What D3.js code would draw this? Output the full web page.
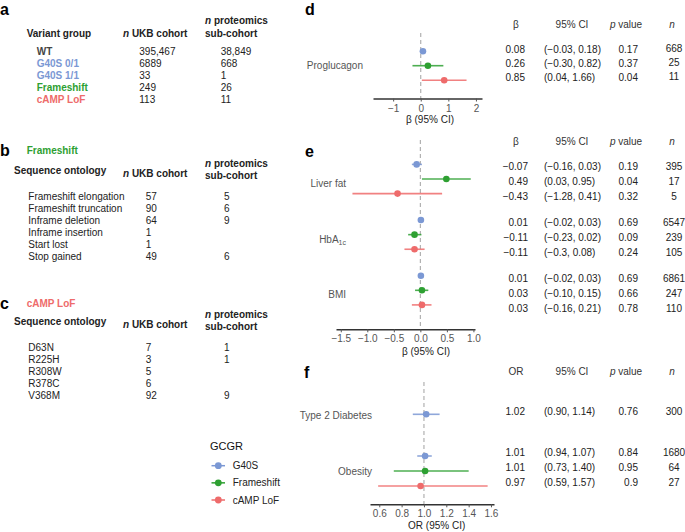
<!DOCTYPE html>
<html><head><meta charset="utf-8">
<script src="https://cdn.jsdelivr.net/npm/d3@7"></script>
<style>body{margin:0;background:#fff} svg{font-family:"Liberation Sans",Arial,sans-serif}</style>
</head><body><svg id="c" width="685" height="532"></svg>
<script>
// ---------- data ----------
const seriesNames = ["G40S", "Frameshift", "cAMP LoF"];
const seriesColors = ["#7b98d4", "#2ea032", "#ee6b6b"];

const variantGroups = ["WT", "G40S 0/1", "G40S 1/1", "Frameshift", "cAMP LoF"];
const variantUKB = ["395,467", "6889", "33", "249", "113"];
const variantProt = ["38,849", "668", "1", "26", "11"];

const frameshiftTypes = ["Frameshift elongation", "Frameshift truncation", "Inframe deletion", "Inframe insertion", "Start lost", "Stop gained"];
const frameshiftUKB = ["57", "90", "64", "1", "1", "49"];
const frameshiftProt = ["5", "6", "9", "", "", "6"];

const campVariants = ["D63N", "R225H", "R308W", "R378C", "V368M"];
const campUKB = ["7", "3", "5", "6", "92"];
const campProt = ["1", "1", "", "", "9"];

// panel d
const dOutcome = ["Proglucagon", "Proglucagon", "Proglucagon"];
const dSeries = ["G40S", "Frameshift", "cAMP LoF"];
const dBeta = [0.08, 0.26, 0.85];
const dLo = ["-0.03", "-0.30", "0.04"];
const dHi = ["0.18", "0.82", "1.66"];
const dP = ["0.17", "0.37", "0.04"];
const dN = ["668", "25", "11"];
const dTicks = [-1, 0, 1, 2];

// panel e
const eOutcome = ["Liver fat", "Liver fat", "Liver fat", "HbA1c", "HbA1c", "HbA1c", "BMI", "BMI", "BMI"];
const eSeries = ["G40S", "Frameshift", "cAMP LoF", "G40S", "Frameshift", "cAMP LoF", "G40S", "Frameshift", "cAMP LoF"];
const eBeta = [-0.07, 0.49, -0.43, 0.01, -0.11, -0.11, 0.01, 0.03, 0.03];
const eLo = ["-0.16", "0.03", "-1.28", "-0.02", "-0.23", "-0.3", "-0.02", "-0.10", "-0.16"];
const eHi = ["0.03", "0.95", "0.41", "0.03", "0.02", "0.08", "0.03", "0.15", "0.21"];
const eP = ["0.19", "0.04", "0.32", "0.69", "0.09", "0.24", "0.69", "0.66", "0.78"];
const eN = ["395", "17", "5", "6547", "239", "105", "6861", "247", "110"];
const eTicks = [-1.5, -1.0, -0.5, 0.0, 0.5, 1.0];

// panel f
const fOutcome = ["Type 2 Diabetes", "Obesity", "Obesity", "Obesity"];
const fSeries = ["G40S", "G40S", "Frameshift", "cAMP LoF"];
const fOR = [1.02, 1.01, 1.01, 0.97];
const fLo = ["0.90", "0.94", "0.73", "0.59"];
const fHi = ["1.14", "1.07", "1.40", "1.57"];
const fP = ["0.76", "0.84", "0.95", "0.9"];
const fN = ["300", "1680", "64", "27"];
const fTicks = [0.6, 0.8, 1.0, 1.2, 1.4, 1.6];

// ---------- drawing ----------
const svg = d3.select("#c");
const color = d3.scaleOrdinal().domain(seriesNames).range(seriesColors);
const FS = 10;

function txt(x, y, s, opts = {}) {
  const t = svg.append("text").attr("x", x).attr("y", y).attr("dy", "0.35em")
    .attr("font-size", opts.size || FS).attr("fill", opts.fill || "#222")
    .attr("text-anchor", opts.anchor || "start");
  if (opts.bold) t.attr("font-weight", "bold");
  if (opts.italic) t.attr("font-style", "italic");
  t.text(s);
  return t;
}
function italicFirst(x, y, first, rest, opts = {}) {
  const t = svg.append("text").attr("x", x).attr("y", y).attr("dy", "0.35em")
    .attr("font-size", FS).attr("fill", opts.fill || "#222")
    .attr("text-anchor", opts.anchor || "start");
  if (opts.bold) t.attr("font-weight", "bold");
  t.append("tspan").attr("font-style", "italic").text(first);
  t.append("tspan").text(rest);
  return t;
}

// panel letters
[["a", 0, 9], ["b", 0, 150], ["c", 0, 303], ["d", 305, 9], ["e", 305, 151], ["f", 304, 372]].forEach(([l, x, y]) =>
  txt(x, y, l, { size: 16, bold: true, fill: "#000" }));

// ----- panel a -----
txt(26.7, 33, "Variant group", { bold: true });
italicFirst(123, 33, "n", " UKB cohort", { bold: true });
italicFirst(205, 20.7, "n", " proteomics", { bold: true });
txt(205, 33, "sub-cohort", { bold: true });
const aY = d3.scalePoint().domain(variantGroups).range([51.7, 99.3]);
const aColor = d3.scaleOrdinal().domain(variantGroups).range(["#444", seriesColors[0], seriesColors[0], seriesColors[1], seriesColors[2]]);
variantGroups.forEach((gname, i) => {
  txt(36.7, aY(gname), gname, { bold: true, fill: aColor(gname) });
  txt(139.3, aY(gname), variantUKB[i]);
  txt(220.7, aY(gname), variantProt[i]);
});

// ----- panel b / c -----
function seqTable(title, titleColor, titleY, headY, names, ukb, prot, yStart, yEnd) {
  txt(26.7, titleY, title, { bold: true, fill: titleColor });
  txt(14, headY, "Sequence ontology", { bold: true });
  italicFirst(123, headY + 2.5, "n", " UKB cohort", { bold: true });
  italicFirst(205, headY - 7.5, "n", " proteomics", { bold: true });
  txt(205, headY + 4.5, "sub-cohort", { bold: true });
  const y = d3.scalePoint().domain(names).range([yStart, yEnd]);
  names.forEach((n, i) => {
    txt(28.3, y(n), n);
    txt(145.7, y(n), ukb[i]);
    txt(224, y(n), prot[i]);
  });
}
seqTable("Frameshift", seriesColors[1], 150, 170.7, frameshiftTypes, frameshiftUKB, frameshiftProt, 196, 256);
seqTable("cAMP LoF", seriesColors[2], 303, 321.7, campVariants, campUKB, campProt, 347, 395);

// ----- legend -----
txt(210, 446, "GCGR", { size: 11, fill: "#111" });
const legY = d3.scalePoint().domain(seriesNames).range([465.7, 500]);
seriesNames.forEach(s => {
  svg.append("line").attr("x1", 211.5).attr("x2", 225).attr("y1", legY(s)).attr("y2", legY(s))
    .attr("stroke", color(s)).attr("stroke-width", 1.5);
  svg.append("circle").attr("cx", 218.3).attr("cy", legY(s)).attr("r", 3.4).attr("fill", color(s));
  txt(232.7, legY(s), s, { fill: "#222" });
});

// ----- forest panels -----
const fmt = s => String(s).replace("-", "\u2212");
function drawForest(o) {
  const x = d3.scaleLinear().domain(o.domain).range(o.xRange);
  const groups = Array.from(new Set(o.outcome));
  const gy = d3.scalePoint().domain(groups).range(o.groupRange);
  const ty = d3.scalePoint().domain(groups).range(o.tGroupRange);
  const rows = o.outcome.map((oc, i) => {
    const members = o.outcome.map((v, k) => k).filter(k => o.outcome[k] === oc);
    const j = members.indexOf(i), k = members.length;
    return {
      oc, s: o.series[i], est: o.est[i], lo: +o.lo[i], hi: +o.hi[i],
      loT: o.lo[i], hiT: o.hi[i], p: o.p[i], n: o.n[i],
      y: gy(oc) + (j - (k - 1) / 2) * o.step,
      ty: ty(oc) + (j - (k - 1) / 2) * o.tStep
    };
  });
  // reference line
  svg.append("line").attr("x1", x(o.ref)).attr("x2", x(o.ref)).attr("y1", o.dashTop).attr("y2", o.axisY)
    .attr("stroke", "#aaa").attr("stroke-width", 1.1).attr("stroke-dasharray", "4,3");
  // CIs + points
  rows.forEach(r => {
    svg.append("line").attr("x1", x(r.lo)).attr("x2", x(r.hi)).attr("y1", r.y).attr("y2", r.y)
      .attr("stroke", color(r.s)).attr("stroke-width", 1.6).attr("stroke-opacity", 0.85);
    svg.append("circle").attr("cx", x(r.est)).attr("cy", r.y).attr("r", 3.3).attr("fill", color(r.s));
  });
  // axis
  const ax = svg.append("g").attr("transform", `translate(0,${o.axisY})`)
    .call(d3.axisBottom(x).tickValues(o.ticks).tickFormat(d3.format(o.tickFmt)).tickSize(3).tickSizeOuter(0));
  ax.select(".domain").attr("stroke", "#333").attr("stroke-width", 1.6);
  ax.selectAll(".tick line").attr("stroke", "#555");
  ax.selectAll(".tick text").attr("fill", "#555").attr("font-size", FS).attr("font-family", "Liberation Sans, Arial, sans-serif");
  // axis title
  const at = svg.append("text").attr("x", o.titleX).attr("y", o.axisY + o.titleDy).attr("dy", "0.35em")
    .attr("text-anchor", "middle").attr("font-size", FS).attr("fill", "#222");
  at.text(o.title);
  // outcome labels
  groups.forEach(gname => {
    const t = svg.append("text").attr("x", o.labelX).attr("y", gy(gname) + o.labelDy).attr("dy", "0.35em")
      .attr("text-anchor", "end").attr("font-size", FS).attr("fill", "#555");
    if (gname === "HbA1c") {
      t.append("tspan").text("HbA");
      t.append("tspan").attr("font-size", 7).attr("dy", "0.35em").text("1c");
    } else t.text(gname);
  });
  // table headers
  txt(516, o.headY, o.estName, { anchor: "middle", fill: "#333" });
  txt(572, o.headY, "95% CI", { anchor: "middle", fill: "#333" });
  italicFirst(626, o.headY, "p", " value", { anchor: "middle", fill: "#333" });
  txt(672, o.headY, "n", { anchor: "middle", italic: true, fill: "#333" });
  // table rows
  rows.forEach(r => {
    txt(o.estRight, r.ty, fmt(r.est.toFixed(2)), { anchor: "end" });
    txt(544, r.ty, `(${fmt(r.loT)}, ${fmt(r.hiT)})`);
    txt(638, r.ty, r.p, { anchor: "end" });
    txt(674, r.ty - o.nLift, r.n, { anchor: "middle" });
  });
}

drawForest({
  outcome: dOutcome, series: dSeries, est: dBeta, lo: dLo, hi: dHi, p: dP, n: dN,
  domain: [-1.73, 2.22], xRange: [373, 482], ref: 0, ticks: dTicks, tickFmt: "d",
  groupRange: [65.7, 65.7], step: 14.5, tGroupRange: [63.8, 63.8], tStep: 14,
  axisY: 98.5, dashTop: 33, title: "\u03b2 (95% CI)", titleX: 430, titleDy: 20.5,
  labelX: 363, labelDy: 0, headY: 24, estName: "\u03b2", estRight: 525, nLift: 1.5
});
drawForest({
  outcome: eOutcome, series: eSeries, est: eBeta, lo: eLo, hi: eHi, p: eP, n: eN,
  domain: [-1.59, 1.03], xRange: [336, 475], ref: 0, ticks: eTicks, tickFmt: ".1f",
  groupRange: [179, 290.3], step: 14.6, tGroupRange: [181.7, 293.3], tStep: 14.9,
  axisY: 329.3, dashTop: 140, title: "\u03b2  (95% CI)", titleX: 426, titleDy: 22.4,
  labelX: 346, labelDy: 4.5, headY: 141.7, estName: "\u03b2", estRight: 528, nLift: 0
});
drawForest({
  outcome: fOutcome, series: fSeries, est: fOR, lo: fLo, hi: fHi, p: fP, n: fN,
  domain: [0.517, 1.627], xRange: [370, 494], ref: 1, ticks: fTicks, tickFmt: ".1f",
  groupRange: [414.3, 471], step: 15, tGroupRange: [411.7, 467.4], tStep: 14.8,
  axisY: 504.3, dashTop: 382, title: "OR (95% CI)", titleX: 436.7, titleDy: 20.7,
  labelX: 372, labelDy: 0.7, headY: 371.7, estName: "OR", estRight: 525, nLift: 0
});
</script></body></html>
